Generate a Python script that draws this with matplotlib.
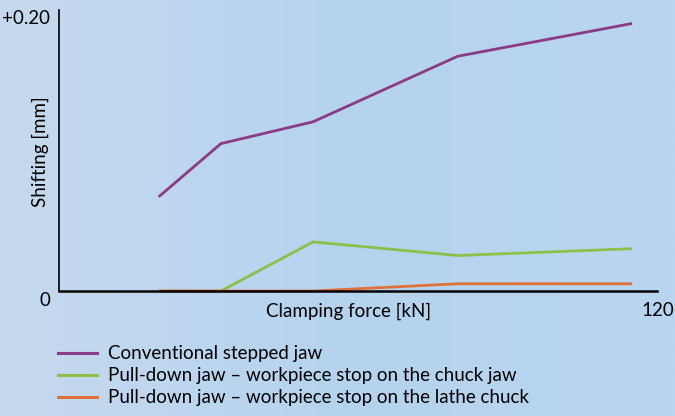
import matplotlib.pyplot as plt
import numpy as np
from matplotlib.colors import LinearSegmentedColormap

# data
force = [20, 32.5, 51, 80, 115]
conventional = [0.069, 0.108, 0.124, 0.172, 0.196]
pull_down_chuck_jaw = [0.0, 0.0, 0.036, 0.026, 0.031]
pull_down_lathe = [0.0, 0.0, 0.0, 0.0053, 0.0053]
labels = ['Conventional stepped jaw',
          'Pull-down jaw \u2013 workpiece stop on the chuck jaw',
          'Pull-down jaw \u2013 workpiece stop on the lathe chuck']
colors = ['#8a3a86', '#8cc04b', '#e0703a']

plt.rcParams['font.family'] = ['Lato', 'DejaVu Sans']

fig = plt.figure(figsize=(6.75, 4.16), dpi=100)

# light blue gradient background
bg = fig.add_axes([0, 0, 1, 1], zorder=-10)
grad = np.linspace(0, 1, 256).reshape(1, -1)
cmap = LinearSegmentedColormap.from_list('bg', ['#c6d9ef', '#b6d3ee', '#b9d5f0'])
bg.imshow(grad, aspect='auto', cmap=cmap, extent=[0, 1, 0, 1])
bg.axis('off')

ax = fig.add_axes([59 / 675, 1 - 291 / 416, 598 / 675, 281 / 416])
ax.patch.set_alpha(0)
for y_vals, c in zip([conventional, pull_down_chuck_jaw, pull_down_lathe], colors):
    ax.plot(force, y_vals, color=c, lw=2.0, solid_capstyle='butt', clip_on=False)

ax.set_xlim(0, 120)
ax.set_ylim(0, 0.2059)
ax.spines['top'].set_visible(False)
ax.spines['right'].set_visible(False)
ax.spines['left'].set_linewidth(1.2)
ax.spines['bottom'].set_linewidth(1.8)
ax.set_xticks([])
ax.set_yticks([])

fs = 13.5
fig.text(50 / 675, 1 - 18 / 416, '+0.20', ha='right', va='center', fontsize=fs)
fig.text(45 / 675, 1 - 300 / 416, '0', ha='center', va='center', fontsize=fs)
fig.text(658 / 675, 1 - 311 / 416, '120', ha='center', va='center', fontsize=fs)
fig.text(349 / 675, 1 - 311 / 416, 'Clamping force [kN]', ha='center', va='center', fontsize=fs)
fig.text(40 / 675, 1 - 152 / 416, 'Shifting [mm]', ha='center', va='center', fontsize=fs, rotation=90)

# legend drawn by hand
for i, (lab, c) in enumerate(zip(labels, colors)):
    y = 1 - (353 + 22 * i) / 416
    fig.add_artist(plt.Line2D([58 / 675, 97 / 675], [y, y], color=c, lw=2.2))
    fig.text(108 / 675, y, lab, ha='left', va='center', fontsize=fs)

fig.savefig('out.png', dpi=100)
